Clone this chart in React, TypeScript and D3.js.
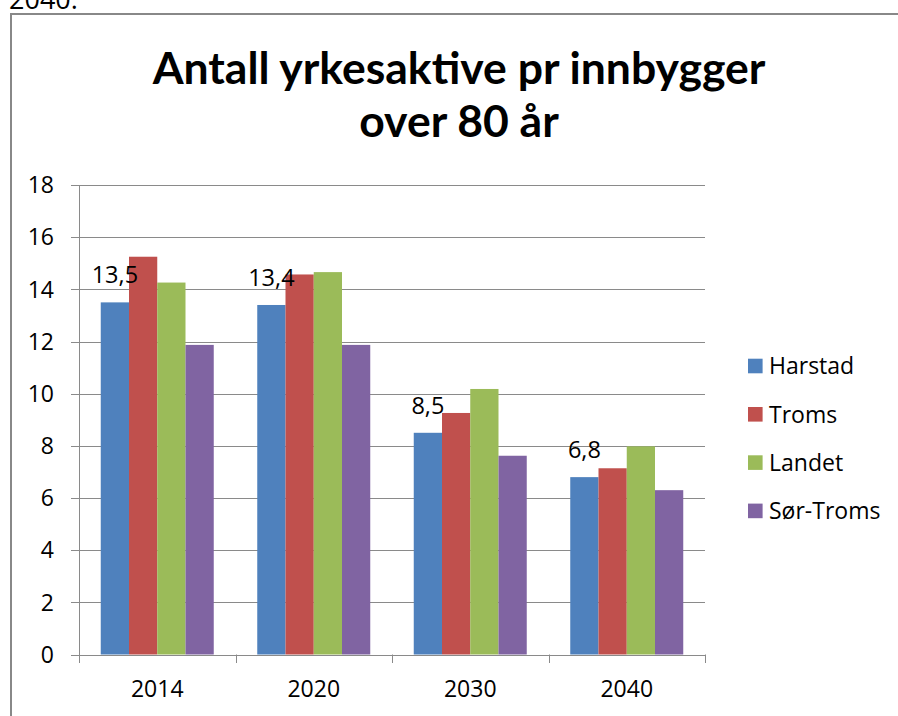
import React from "react";
import * as d3 from "d3";

const categories = ["2014", "2020", "2030", "2040"];
const seriesNames = ["Harstad", "Troms", "Landet", "Sør-Troms"];
const harstad = [13.5, 13.4, 8.5, 6.8];
const troms = [15.25, 14.57, 9.26, 7.14];
const landet = [14.26, 14.66, 10.18, 7.98];
const sorTroms = [11.87, 11.87, 7.62, 6.3];
const seriesValues = [harstad, troms, landet, sorTroms];
const colors = ["#4F81BD", "#C0504D", "#9BBB59", "#8064A2"];
const yTicks = [0, 2, 4, 6, 8, 10, 12, 14, 16, 18];
const titleLines = ["Antall yrkesaktive pr innbygger", "over 80 år"];
const topText = "2040.";

const W = 898;
const H = 716;
const font = "'Open Sans', sans-serif";

export default function App() {
  const x = d3.scaleBand<string>().domain(categories).range([79, 705]).padding(0);
  const xs = d3
    .scaleBand<string>()
    .domain(seriesNames)
    .range([0, x.bandwidth()])
    .paddingInner(0)
    .paddingOuter(0.77);
  const y = d3.scaleLinear().domain([0, 18]).range([654.5, 185]);
  const fmt = (v: number) => d3.format(".1f")(v).replace(".", ",");
  const gridColor = "#8a8a8a";

  return (
    <svg
      width={W}
      height={H}
      style={{ position: "absolute", left: 0, top: 0, background: "#fff" }}
    >
      <rect x={0} y={0} width={W} height={H} fill="#fff" />
      <text x={9} y={9} fontFamily={font} fontSize={27} fill="#000">
        {topText}
      </text>
      {/* frame */}
      <line x1={10} x2={W} y1={14} y2={14} stroke="#888" strokeWidth={2} />
      <line x1={11} x2={11} y1={13} y2={H} stroke="#888" strokeWidth={2} />

      {/* title */}
      {titleLines.map((t, i) => (
        <text
          key={t}
          x={459}
          y={84 + i * 53}
          textAnchor="middle"
          fontFamily="Lato, sans-serif"
          fontWeight={700}
          fontSize={44.5}
          fill="#000"
        >
          {t}
        </text>
      ))}

      {/* gridlines and y ticks */}
      {yTicks.map((t) => (
        <g key={t}>
          <line
            x1={71}
            x2={705}
            y1={Math.round(y(t)) + 0.5}
            y2={Math.round(y(t)) + 0.5}
            stroke={gridColor}
            strokeWidth={1}
          />
          <text
            x={54}
            y={y(t)}
            dy="0.36em"
            textAnchor="end"
            fontFamily={font}
            fontSize={23}
            fill="#000"
          >
            {t}
          </text>
        </g>
      ))}
      {/* y axis */}
      <line x1={79.5} x2={79.5} y1={185} y2={655} stroke={gridColor} strokeWidth={1} />
      {/* x ticks */}
      {[...categories.map((c) => x(c)!), 705].map((px, i) => (
        <line
          key={i}
          x1={Math.round(px) + 0.5}
          x2={Math.round(px) + 0.5}
          y1={654.5}
          y2={663}
          stroke={gridColor}
          strokeWidth={1}
        />
      ))}

      {/* bars */}
      {categories.map((c, ci) => (
        <g key={c} transform={`translate(${x(c)},0)`}>
          {seriesNames.map((s, si) => {
            const v = seriesValues[si][ci];
            return (
              <rect
                key={s}
                x={xs(s)}
                y={y(v)}
                width={xs.bandwidth()}
                height={y(0) - y(v)}
                fill={colors[si]}
              />
            );
          })}
          <text
            x={xs(seriesNames[0])! + xs.bandwidth() / 2}
            y={y(harstad[ci]) - 19}
            textAnchor="middle"
            fontFamily={font}
            fontSize={23.5}
            fill="#000"
          >
            {fmt(harstad[ci])}
          </text>
          <text
            x={x.bandwidth() / 2}
            y={697}
            textAnchor="middle"
            fontFamily={font}
            fontSize={23}
            fill="#000"
          >
            {c}
          </text>
        </g>
      ))}

      {/* legend */}
      {seriesNames.map((s, i) => {
        const cy = 366 + i * 48.3;
        return (
          <g key={s}>
            <rect x={748} y={cy - 7.3} width={14.6} height={14.6} fill={colors[i]} />
            <text
              x={769}
              y={cy}
              dy="0.36em"
              fontFamily={font}
              fontSize={23}
              fill="#000"
            >
              {s}
            </text>
          </g>
        );
      })}
    </svg>
  );
}
